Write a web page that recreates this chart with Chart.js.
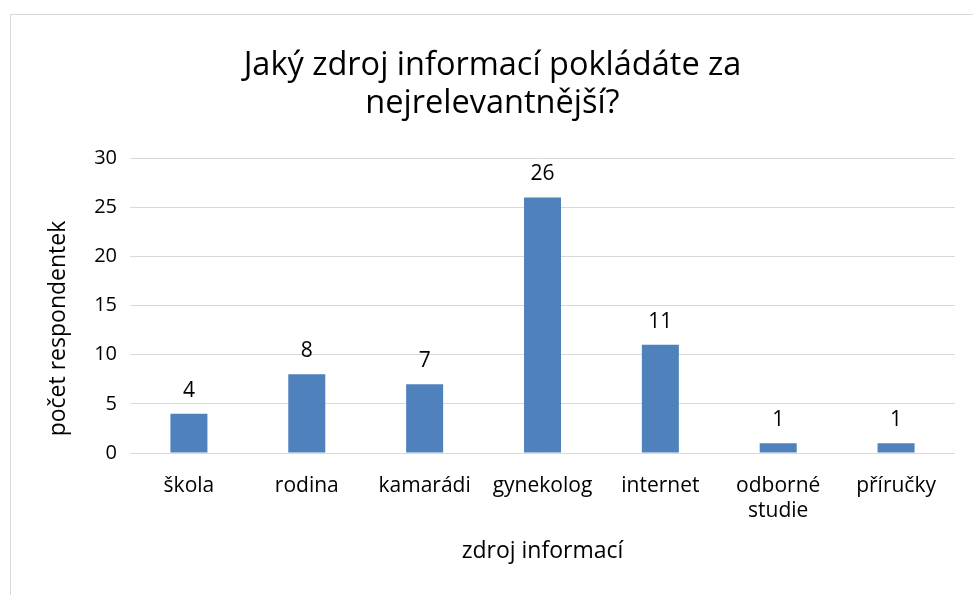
<!DOCTYPE html>
<html>
<head>
<meta charset="utf-8">
<script src="https://cdn.jsdelivr.net/npm/chart.js@4/dist/chart.umd.min.js"></script>
<style>
  html, body { margin: 0; padding: 0; background: #fff; overflow: hidden; }
  #wrap { position: relative; width: 973px; height: 595px; }
  #frame { position: absolute; left: 10px; top: 14px; width: 1000px; height: 1000px;
           border: 1px solid #d9d9d9; pointer-events: none; }
</style>
</head>
<body>
<div id="wrap">
  <canvas id="chart" width="973" height="595"></canvas>
  <div id="frame"></div>
</div>
<script>
// data
const categories = ['škola', 'rodina', 'kamarádi', 'gynekolog', 'internet', ['odborné', 'studie'], 'příručky'];
const counts = [4, 8, 7, 26, 11, 1, 1];
const yTicks = [0, 5, 10, 15, 20, 25, 30];

const titleLines = ['Jaký zdroj informací pokládáte za', 'nejrelevantnější?'];
const xTitle = 'zdroj informací';
const yTitle = 'počet respondentek';

const FONT = "'Open Sans', sans-serif";

// value labels above the bars + y axis title (sits a bit below the axis middle, like Excel)
const extras = {
    id: 'extras',
    afterDatasetsDraw(chart) {
        const ctx = chart.ctx;
        const meta = chart.getDatasetMeta(0);
        ctx.save();
        ctx.font = '21px ' + FONT;
        ctx.fillStyle = '#000';
        ctx.textAlign = 'center';
        ctx.textBaseline = 'middle';
        meta.data.forEach((bar, i) => {
            ctx.fillText(String(counts[i]), bar.x, bar.y - 23);
        });

        const y = chart.scales.y;
        ctx.font = '23px ' + FONT;
        ctx.translate(y.left + 28, (y.top + y.bottom) / 2 + 23);
        ctx.rotate(-Math.PI / 2);
        ctx.fillText(yTitle, 0, 0);
        ctx.restore();
    }
};

const ctx = document.getElementById('chart').getContext('2d');
new Chart(ctx, {
    type: 'bar',
    data: {
        labels: categories,
        datasets: [{
            data: counts,
            backgroundColor: '#4f81bd',
            borderWidth: 0,
            categoryPercentage: 1,
            barPercentage: 0.314
        }]
    },
    options: {
        responsive: false,
        animation: false,
        layout: { padding: { left: 30, right: 18, top: 0, bottom: 0 } },
        plugins: {
            legend: { display: false },
            tooltip: { enabled: false },
            title: {
                display: true,
                text: titleLines,
                color: '#000',
                font: { family: FONT, size: 32.5, weight: 'normal', lineHeight: 1.17 },
                padding: { top: 47, bottom: 35 }
            }
        },
        scales: {
            x: {
                grid: { display: false, drawTicks: false },
                border: { display: false },
                ticks: {
                    color: '#000',
                    font: { family: FONT, size: 21 },
                    padding: 20,
                    maxRotation: 0,
                    autoSkip: false
                },
                title: {
                    display: true,
                    text: xTitle,
                    color: '#000',
                    font: { family: FONT, size: 23 },
                    padding: { top: 0, bottom: 30 }
                },
                afterFit(scale) { scale.height = 142; }
            },
            y: {
                min: 0,
                max: 30,
                afterBuildTicks(scale) { scale.ticks = yTicks.map(v => ({ value: v })); },
                grid: { color: '#d9d9d9', lineWidth: 1, drawTicks: false },
                border: { display: false },
                ticks: {
                    color: '#000',
                    font: { family: FONT, size: 20 },
                    padding: 13
                },
                title: { display: false },
                afterFit(scale) { scale.width = 100; }
            }
        }
    },
    plugins: [extras]
});
</script>
</body>
</html>
